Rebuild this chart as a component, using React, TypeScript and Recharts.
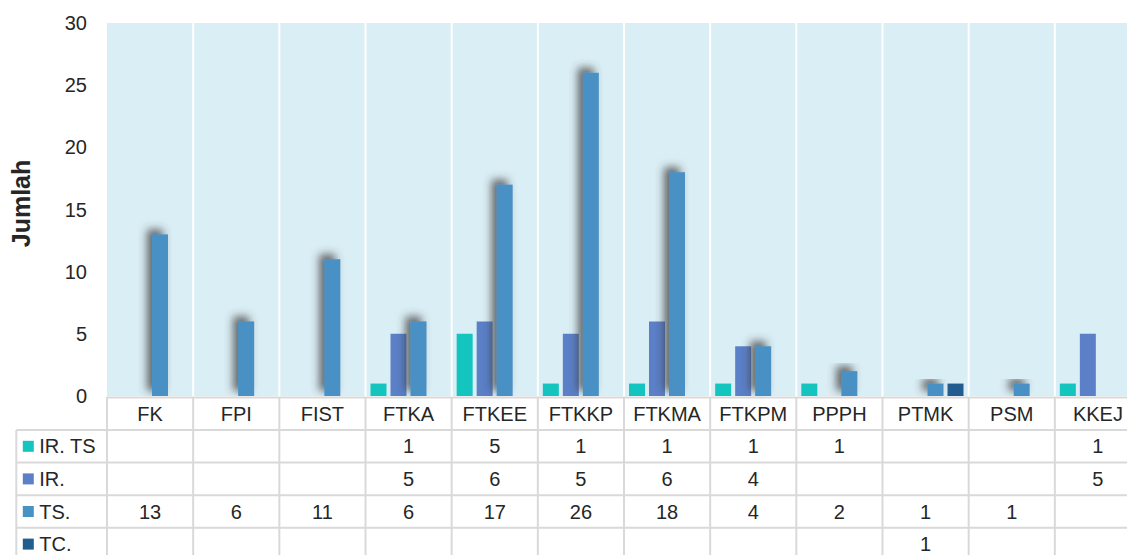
import React from 'react';
import { BarChart, Bar, XAxis, YAxis, CartesianGrid } from 'recharts';

const categories = ['FK', 'FPI', 'FIST', 'FTKA', 'FTKEE', 'FTKKP', 'FTKMA', 'FTKPM', 'PPPH', 'PTMK', 'PSM', 'KKEJ'];
const irTs: (number | null)[] = [null, null, null, 1, 5, 1, 1, 1, 1, null, null, 1];
const ir: (number | null)[] = [null, null, null, 5, 6, 5, 6, 4, null, null, null, 5];
const ts: (number | null)[] = [13, 6, 11, 6, 17, 26, 18, 4, 2, 1, 1, null];
const tc: (number | null)[] = [null, null, null, null, null, null, null, null, null, 1, null, null];
const yTicks = [0, 5, 10, 15, 20, 25, 30];

const seriesDefs = [
  { key: 'irTs', name: 'IR. TS', color: '#13C4BF', values: irTs },
  { key: 'ir', name: 'IR.', color: '#5B80C8', values: ir },
  { key: 'ts', name: 'TS.', color: '#4A91C5', values: ts },
  { key: 'tc', name: 'TC.', color: '#235C8F', values: tc },
];

const data = categories.map((c, i) => ({
  name: c,
  irTs: irTs[i],
  ir: ir[i],
  ts: ts[i],
  tc: tc[i],
}));

const CHART_W = 1140;
const CHART_H = 565;
const M_TOP = 15;
const M_RIGHT = 7;
const Y_W = 99;
const X_H = 177;
const PLOT_W = CHART_W - Y_W - M_RIGHT;
const PLOT_H = CHART_H - M_TOP - X_H;
const BW = PLOT_W / categories.length;
const HEADER_H = 34;
const ROW_H = 32.6;
const LEGEND_W = 90.7;
const GRID = '#D9D9D9';
const TXT = '#262626';
const FONT = '"Liberation Sans", Arial, sans-serif';

const TableTick = (props: any) => {
  const { x, y, payload, index } = props;
  const x0 = x - BW / 2;
  const i = index;
  const els: React.ReactNode[] = [];
  if (i > 0) {
    els.push(<line key="sep" x1={x0} x2={x0} y1={y - PLOT_H} y2={y} stroke="#FFFFFF" strokeWidth={2} />);
  }
  els.push(<line key="vl" x1={x0} x2={x0} y1={y + 1} y2={y + 180} stroke={GRID} strokeWidth={2} />);
  els.push(<line key="top" x1={x0} x2={x0 + BW} y1={y + 1.5} y2={y + 1.5} stroke={GRID} strokeWidth={2} />);
  for (let r = 0; r < 4; r++) {
    const ly = y + HEADER_H + r * ROW_H;
    els.push(<line key={'h' + r} x1={x0} x2={x0 + BW} y1={ly} y2={ly} stroke={GRID} strokeWidth={2} />);
  }
  els.push(
    <text key="hdr" x={x} y={y + HEADER_H / 2 + 7.5} textAnchor="middle" fontSize={20} fill={TXT} fontFamily={FONT}>
      {payload.value}
    </text>
  );
  seriesDefs.forEach((s, r) => {
    const v = s.values[i];
    if (v !== null && v !== undefined) {
      const cy = y + HEADER_H + r * ROW_H + ROW_H / 2;
      els.push(
        <text key={'v' + r} x={x} y={cy + 7} textAnchor="middle" fontSize={20} fill={TXT} fontFamily={FONT}>
          {v}
        </text>
      );
    }
  });
  if (i === 0) {
    const lx = x0 - LEGEND_W;
    els.push(<line key="lvl" x1={lx} x2={lx} y1={y + HEADER_H} y2={y + 180} stroke={GRID} strokeWidth={2} />);
    for (let r = 0; r < 4; r++) {
      const ly = y + HEADER_H + r * ROW_H;
      els.push(<line key={'lh' + r} x1={lx} x2={x0} y1={ly} y2={ly} stroke={GRID} strokeWidth={2} />);
    }
    seriesDefs.forEach((s, r) => {
      const cy = y + HEADER_H + r * ROW_H + ROW_H / 2;
      els.push(<rect key={'ls' + r} x={lx + 6.5} y={cy - 5.5} width={11} height={11} fill={s.color} />);
      els.push(
        <text key={'lt' + r} x={lx + 23} y={cy + 7} fontSize={20} fill={TXT} fontFamily={FONT}>
          {s.name}
        </text>
      );
    });
  }
  return <g>{els}</g>;
};

const ShadowBar = (props: any) => {
  const { x, y, width, height, fill } = props;
  if (!height || height <= 0) return <g />;
  return <rect x={x} y={y} width={width} height={height} fill={fill} filter="url(#barShadow)" />;
};

const YLabel = (props: any) => {
  const vb = props.viewBox || { x: 0, y: M_TOP, width: Y_W, height: PLOT_H };
  const cx = vb.x + 22;
  const cy = vb.y + vb.height / 2 - 6;
  return (
    <g transform={`translate(${cx}, ${cy}) rotate(-90)`}>
      <text x={0} y={0} textAnchor="middle" fontSize={25} fontWeight="bold" fill={TXT} fontFamily={FONT}>
        Jumlah
      </text>
    </g>
  );
};

export default function App() {
  return (
    <div style={{ width: 1119, height: 547, overflow: 'hidden', background: '#FFFFFF' }}>
      <style>{'html{overflow:hidden;} body{min-width:1119px;} #root{width:1119px;height:547px;}'}</style>
      <BarChart
        width={CHART_W}
        height={CHART_H}
        data={data}
        margin={{ top: M_TOP, right: M_RIGHT, bottom: 0, left: 0 }}
        barCategoryGap={5}
        barGap={4}
      >
        <defs>
          <filter id="barShadow" x="-150%" y="-30%" width="300%" height="160%">
            <feDropShadow dx={-5} dy={-5} stdDeviation={4} floodColor="#3A3A3A" floodOpacity={0.75} />
          </filter>
        </defs>
        <CartesianGrid fill="#DAEEF5" stroke="none" horizontal={false} vertical={false} />
        <XAxis
          dataKey="name"
          height={X_H}
          tickLine={false}
          axisLine={false}
          tickSize={0}
          tickMargin={0}
          interval={0}
          tick={<TableTick />}
        />
        <YAxis
          width={Y_W}
          domain={[0, 30]}
          ticks={yTicks}
          tickLine={false}
          axisLine={false}
          tickSize={0}
          tickMargin={20}
          tick={{ fontSize: 20, fill: TXT, fontFamily: FONT }}
          label={<YLabel />}
        />
        <Bar dataKey="irTs" name="IR. TS" fill="#13C4BF" isAnimationActive={false} />
        <Bar dataKey="ir" name="IR." fill="#5B80C8" isAnimationActive={false} />
        <Bar dataKey="ts" name="TS." fill="#4A91C5" isAnimationActive={false} shape={<ShadowBar />} />
        <Bar dataKey="tc" name="TC." fill="#235C8F" isAnimationActive={false} />
      </BarChart>
    </div>
  );
}
